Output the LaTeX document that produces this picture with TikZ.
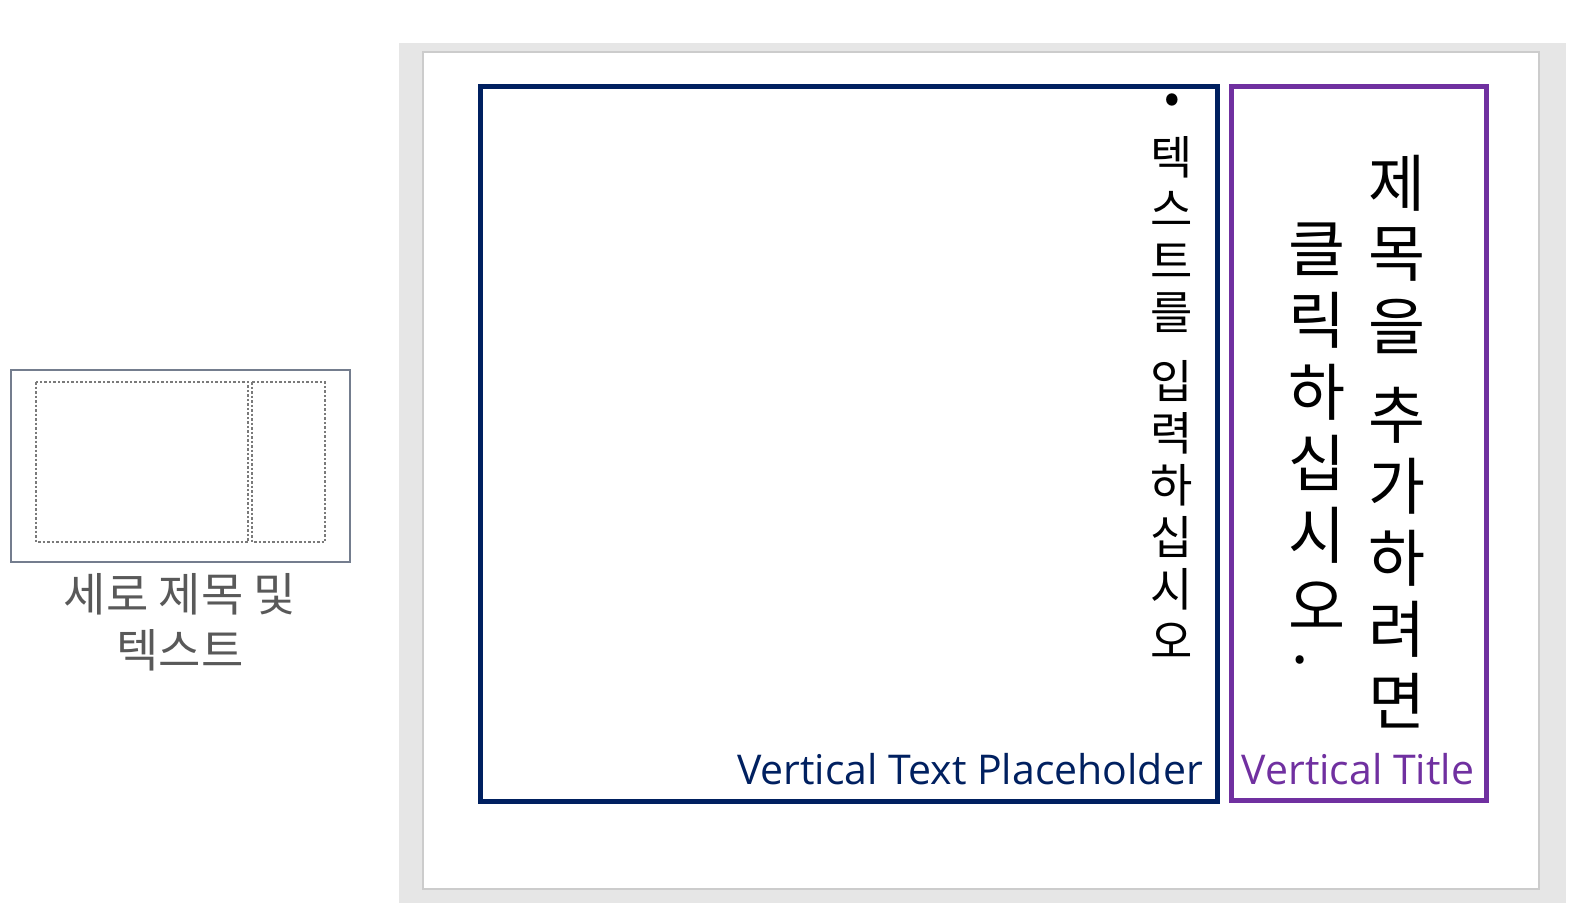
\documentclass[tikz,border=0pt]{standalone}
\usepackage{fontspec}
\setmainfont{Open Sans}
\newfontfamily\kr{Noto Sans CJK KR}
\definecolor{navyph}{HTML}{002060}
\definecolor{purpleph}{HTML}{7030A0}
\definecolor{panelgrey}{HTML}{E6E6E6}
\definecolor{slideedge}{HTML}{CCCCCC}
\definecolor{thumbedge}{HTML}{747D8E}
\definecolor{thumbdash}{HTML}{7A7A7A}
\definecolor{labelgrey}{HTML}{595959}

\begin{document}
\begin{tikzpicture}[x=1pt,y=-1pt,
  bodych/.style={inner sep=0pt, font=\kr\fontsize{46}{46}\selectfont},
  titlech/.style={inner sep=0pt, font=\kr\fontsize{62}{62}\selectfont},
  tag/.style={inner sep=0pt, font=\fontsize{41}{41}\selectfont}]
\useasboundingbox (0,0) rectangle (1582,918);
% thumbnail of the layout
\draw[thumbedge, line width=2pt] (11,370) rectangle (350,562);
\draw[thumbdash, dash pattern=on 2.5pt off 2pt, line width=1.3pt]
  (36,382) rectangle (248,542) (252,382) rectangle (325,542);
\node[labelgrey, align=center, inner sep=0pt, font=\kr\fontsize{46}{56}\selectfont]
  (thumbtag) at (180,622) {세로 제목 및\\텍스트};
% slide
\fill[panelgrey] (399,43) rectangle (1566,903);
\draw[slideedge, fill=white, line width=2pt] (423,52) rectangle (1539,889);
\draw[navyph, line width=5pt] (480.5,86.5) rectangle (1217.5,801.5);
\draw[purpleph, line width=5pt] (1231.5,86.5) rectangle (1486.5,800.5);
% vertical body text
\node[bodych] (bullet) at (1172,104) {•};
\foreach \ch/\yy [count=\i] in {텍/157,스/209,트/261,를/313,입/381,력/433,하/485,십/537,시/589,오/641}
  \node[bodych] (b\i) at (1172,\yy) {\ch};
% vertical title, two columns
\foreach \ch/\yy [count=\i] in {제/183,목/254,을/326,추/415,가/486,하/558,려/629,면/701}
  \node[titlech] (r\i) at (1397,\yy) {\ch};
\foreach \ch/\yy [count=\i] in {클/249,릭/320,하/392,십/463,시/535,오/606}
  \node[titlech] (l\i) at (1317,\yy) {\ch};
\node[titlech, text height=6pt, text depth=0pt] (dot) at (1300,660) {.};
% placeholder names
\node[tag, navyph, anchor=base east] (bodytag) at (1203,784) {Vertical Text Placeholder};
\node[tag, purpleph, anchor=base] (titletag) at (1358,784) {Vertical Title};
\end{tikzpicture}
\end{document}
